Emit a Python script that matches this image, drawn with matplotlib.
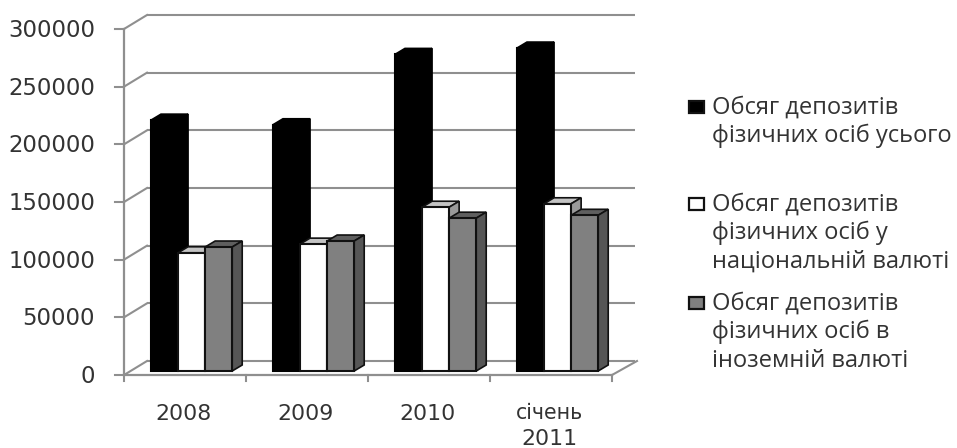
import matplotlib
matplotlib.use("Agg")
import matplotlib.pyplot as plt
from matplotlib.patches import Polygon, Rectangle
from matplotlib.transforms import Affine2D

W, H = 957, 448
categories = ["2008", "2009", "2010", "січень\n2011"]
total = [217500, 213500, 274500, 280000]
national = [102500, 110000, 142000, 145000]
foreign = [107500, 112700, 132500, 135000]
series_names = [
    "Обсяг депозитів\nфізичних осіб усього",
    "Обсяг депозитів\nфізичних осіб у\nнаціональній валюті",
    "Обсяг депозитів\nфізичних осіб в\nіноземній валюті",
]
y_ticks = [0, 50000, 100000, 150000, 200000, 250000, 300000]

GRID = "#8f8f8f"
TEXT = "#333333"
BACK_DX, BACK_DY = 23, 14      # wall offset in pixels
BAR_DX, BAR_DY = 10, 6         # bar depth in pixels
FLOOR_LIFT = 4                 # bars stand slightly behind the front edge
AXIS_FONT = 16.4

fig = plt.figure(figsize=(W / 100, H / 100), dpi=100, facecolor="white")
ax = fig.add_axes([124 / W, 1 - 375 / H, 488 / W, 346 / H])
ax.set_xlim(0, 4)
ax.set_ylim(0, 300000)
ax.set_axis_off()


def shifted(dx, dy):
    return ax.transData + Affine2D().translate(dx, dy)


# Back wall gridlines, their slanted side-wall parts, and the floor edges
for v in y_ticks:
    ax.plot([4, 0], [v, v], transform=shifted(BACK_DX, BACK_DY), color=GRID,
            lw=1.5, clip_on=False, zorder=1, solid_capstyle="butt")
    x0, y0 = ax.transData.transform((0, v))
    ax.plot([x0, x0 + BACK_DX], [y0, y0 + BACK_DY], transform=None, color=GRID,
            lw=1.5, clip_on=False, zorder=1)
    ax.plot([x0 - 9, x0], [y0, y0], transform=None, color=GRID, lw=1.5,
            clip_on=False, zorder=1)
    ax.text(x0 - 29, y0 - 1.5, str(v), transform=None, ha="right", va="center",
            fontsize=AXIS_FONT, color=TEXT, clip_on=False)

ax.plot([0, 0], [0, 300000], color=GRID, lw=1.6, clip_on=False, zorder=1)
ax.plot([0, 4], [0, 0], color=GRID, lw=1.6, clip_on=False, zorder=1)
xr, yr = ax.transData.transform((4, 0))
ax.plot([xr, xr + BACK_DX + 2], [yr, yr + BACK_DY], transform=None, color=GRID,
        lw=1.5, clip_on=False, zorder=1)
for i in range(5):
    xt, yt = ax.transData.transform((i, 0))
    ax.plot([xt, xt], [yt, yt - 6], transform=None, color=GRID, lw=1.5,
            clip_on=False, zorder=1)

for i, label in enumerate(categories):
    lines = label.split("\n")
    if len(lines) == 1:
        ax.text(i + 0.49, -33400, label, ha="center", va="center", fontsize=AXIS_FONT - 0.6,
                color=TEXT, clip_on=False)
    else:
        ax.text(i + 0.49, -33000, lines[0], ha="center", va="center", fontsize=AXIS_FONT - 1.6,
                color=TEXT, clip_on=False)
        ax.text(i + 0.49, -55500, lines[1], ha="center", va="center", fontsize=AXIS_FONT - 0.6,
                color=TEXT, clip_on=False)

# 3-D columns: (front, top, side, edge colour)
styles = [
    ("#000000", "#000000", "#000000", "#000000"),
    ("#ffffff", "#c4c4c4", "#9a9a9a", "#111111"),
    ("#808080", "#5f5f5f", "#565656", "#111111"),
]
offsets = [0.221, 0.443, 0.665]
bar_w = 0.222
values = [total, national, foreign]
lift = shifted(0, FLOOR_LIFT)

for s, (series, off, style) in enumerate(zip(values, offsets, styles)):
    front, top, side, edge = style
    for i, v in enumerate(series):
        left = i + off
        z = 3 + s
        ax.bar(left, v, bar_w, align="edge", color=front, edgecolor=edge,
               lw=1.5, transform=lift, clip_on=False, zorder=z + 0.2)
        (xa, ya) = lift.transform((left, v))
        (xb, yb) = lift.transform((left + bar_w, 0))
        ax.add_patch(Polygon(
            [(xa, ya), (xb, ya), (xb + BAR_DX, ya + BAR_DY), (xa + BAR_DX, ya + BAR_DY)],
            closed=True, facecolor=top, edgecolor=edge, lw=1.2,
            transform=None, clip_on=False, zorder=z))
        ax.add_patch(Polygon(
            [(xb, ya), (xb + BAR_DX, ya + BAR_DY), (xb + BAR_DX, yb + BAR_DY), (xb, yb)],
            closed=True, facecolor=side, edgecolor=edge, lw=1.2,
            transform=None, clip_on=False, zorder=z))

# Legend
legend_y = [107, 204, 303]
swatches = ["#000000", "#ffffff", "#808080"]
for name, y, color in zip(series_names, legend_y, swatches):
    fig.add_artist(Rectangle((689 / W, 1 - (y + 6) / H), 15 / W, 12 / H,
                             transform=fig.transFigure, facecolor=color,
                             edgecolor="#111111", lw=1.6))
    for j, line in enumerate(name.split("\n")):
        fig.text(712 / W, 1 - (y + 1 + j * 28.3) / H, line, ha="left", va="center",
                 fontsize=17, color=TEXT, family="Open Sans")

fig.savefig("out.png", dpi=100, facecolor="white")
